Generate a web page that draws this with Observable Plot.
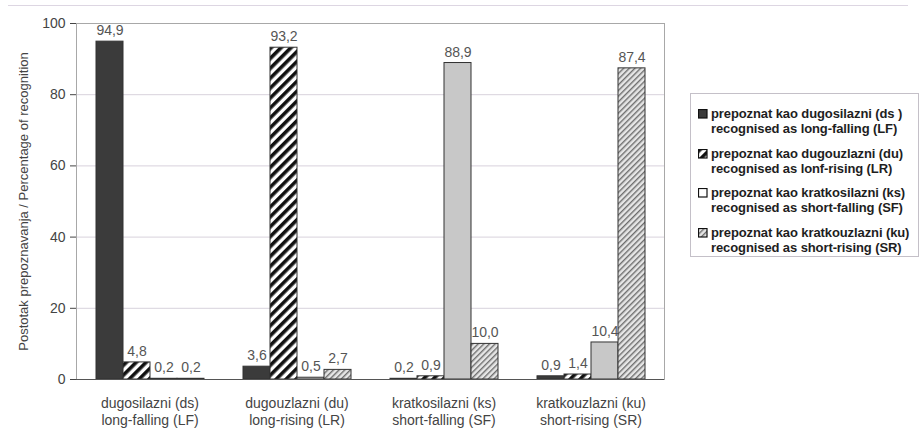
<!DOCTYPE html>
<html><head><meta charset="utf-8">
<script src="https://cdn.jsdelivr.net/npm/d3@7"></script>
<script src="https://cdn.jsdelivr.net/npm/@observablehq/plot@0.6"></script>
<style>
body{margin:0;background:#fff;font-family:"Liberation Sans",Arial,sans-serif;}
#wrap{position:relative;width:921px;height:448px;overflow:hidden;}
#topline{position:absolute;left:8px;top:5px;width:900px;height:0;border-top:1px solid #ddd6e2;}
#legend{position:absolute;left:690px;top:93px;width:229px;height:164px;border:1px solid #c4c0c8;box-sizing:border-box;padding:12px 0 0 7px;
  font-weight:bold;font-size:13px;line-height:15px;color:#1e1e1e;letter-spacing:-0.1px;}
.item{position:relative;padding-left:13px;margin-bottom:9.5px;white-space:nowrap;}
.item svg{position:absolute;left:0;top:3px;}
</style></head>
<body>
<svg width="0" height="0" style="position:absolute">
  <defs>
    <pattern id="hatchBW" patternUnits="userSpaceOnUse" width="7" height="7" patternTransform="rotate(45)">
      <rect width="7" height="7" fill="#fff"/>
      <rect x="0" width="3.6" height="7" fill="#111"/>
    </pattern>
    <pattern id="hatchGray" patternUnits="userSpaceOnUse" width="4" height="4" patternTransform="rotate(45)">
      <rect width="4" height="4" fill="#e6e6e6"/>
      <rect x="0" width="1.4" height="4" fill="#6e6e6e"/>
    </pattern>
  </defs>
</svg>
<div id="wrap"><div id="topline"></div></div>
<script>
// categories (stimulus tone), two-line labels
const categoryKeys = ["ds", "du", "ks", "ku"];
const categoryHr = ["dugosilazni (ds)", "dugouzlazni (du)", "kratkosilazni (ks)", "kratkouzlazni (ku)"];
const categoryEn = ["long-falling (LF)", "long-rising (LR)", "short-falling (SF)", "short-rising (SR)"];

// series (response), values per category
const seriesKeys = ["LF", "LR", "SF", "SR"];
const recognisedLF = [94.9, 3.6, 0.2, 0.9];
const recognisedLR = [4.8, 93.2, 0.9, 1.4];
const recognisedSF = [0.2, 0.5, 88.9, 10.4];
const recognisedSR = [0.2, 2.7, 10.0, 87.4];

const legendHr = ["prepoznat kao dugosilazni (ds )", "prepoznat kao dugouzlazni (du)", "prepoznat kao kratkosilazni (ks)", "prepoznat kao kratkouzlazni (ku)"];
const legendEn = ["recognised as long-falling (LF)", "recognised as lonf-rising (LR)", "recognised as short-falling (SF)", "recognised as short-rising (SR)"];

const yTicks = [0, 20, 40, 60, 80, 100];
const yLabel = "Postotak prepoznavanja / Percentage of recognition";

const fills = ["#3b3b3b", "url(#hatchBW)", "#c8c8c8", "url(#hatchGray)"];

const seriesValues = [recognisedLF, recognisedLR, recognisedSF, recognisedSR];
const data = [];
categoryKeys.forEach((c, i) => {
  seriesKeys.forEach((s, j) => data.push({cat: c, series: s, value: seriesValues[j][i]}));
});
const fmt = v => d3.format(".1f")(v).replace(".", ",");

const chart = Plot.plot({
  width: 921, height: 448,
  marginLeft: 75, marginRight: 256, marginTop: 23, marginBottom: 69,
  style: {fontFamily: "'Liberation Sans', Arial, sans-serif", fontSize: "14px", color: "#444", background: "transparent"},
  fx: {domain: categoryKeys, padding: 0, label: null, axis: null},
  x: {domain: seriesKeys, axis: null, paddingInner: 0, paddingOuter: 0.7},
  y: {domain: [0, 100]},
  color: {type: "ordinal", domain: seriesKeys, range: fills},
  marks: [
    Plot.gridY(yTicks, {stroke: "#d8d2dc", strokeOpacity: 1}),
    Plot.frame({facet: "super", stroke: "#a8a8a8"}),
    Plot.axisY(yTicks, {label: yLabel, labelAnchor: "center", labelArrow: "none", labelOffset: 58,
      tickSize: 6, tickPadding: 5, fontSize: 14, facetAnchor: "left"}),
    Plot.axisFx({anchor: "bottom", label: null, tickSize: 0, tickPadding: 17, lineHeight: 1.18, fontSize: 14,
      tickFormat: k => { const i = categoryKeys.indexOf(k); return categoryHr[i] + "\n" + categoryEn[i]; }}),
    Plot.barY(data, {fx: "cat", x: "series", y: "value", fill: "series", stroke: "#333", strokeWidth: 1}),
    Plot.ruleY([0], {stroke: "#555"}),
    Plot.text(data, {fx: "cat", x: "series", y: "value", text: d => fmt(d.value), dy: -11, fill: "#555", fontSize: 14})
  ]
});
d3.select(chart).selectAll("[aria-label='y-axis label'] text, [aria-label='y-axis label']").attr("font-size", 13);
document.getElementById("wrap").appendChild(chart);

// legend
const leg = document.createElement("div");
leg.id = "legend";
seriesKeys.forEach((s, i) => {
  const it = document.createElement("div");
  it.className = "item";
  it.innerHTML = `<svg width="10" height="10"><rect x="0.5" y="0.5" width="8.5" height="8.5" fill="${i === 2 ? '#fff' : fills[i]}" stroke="#111" stroke-width="1.2"/></svg>${legendHr[i]}<br>${legendEn[i]}`;
  leg.appendChild(it);
});
document.getElementById("wrap").appendChild(leg);
</script>
</body></html>
